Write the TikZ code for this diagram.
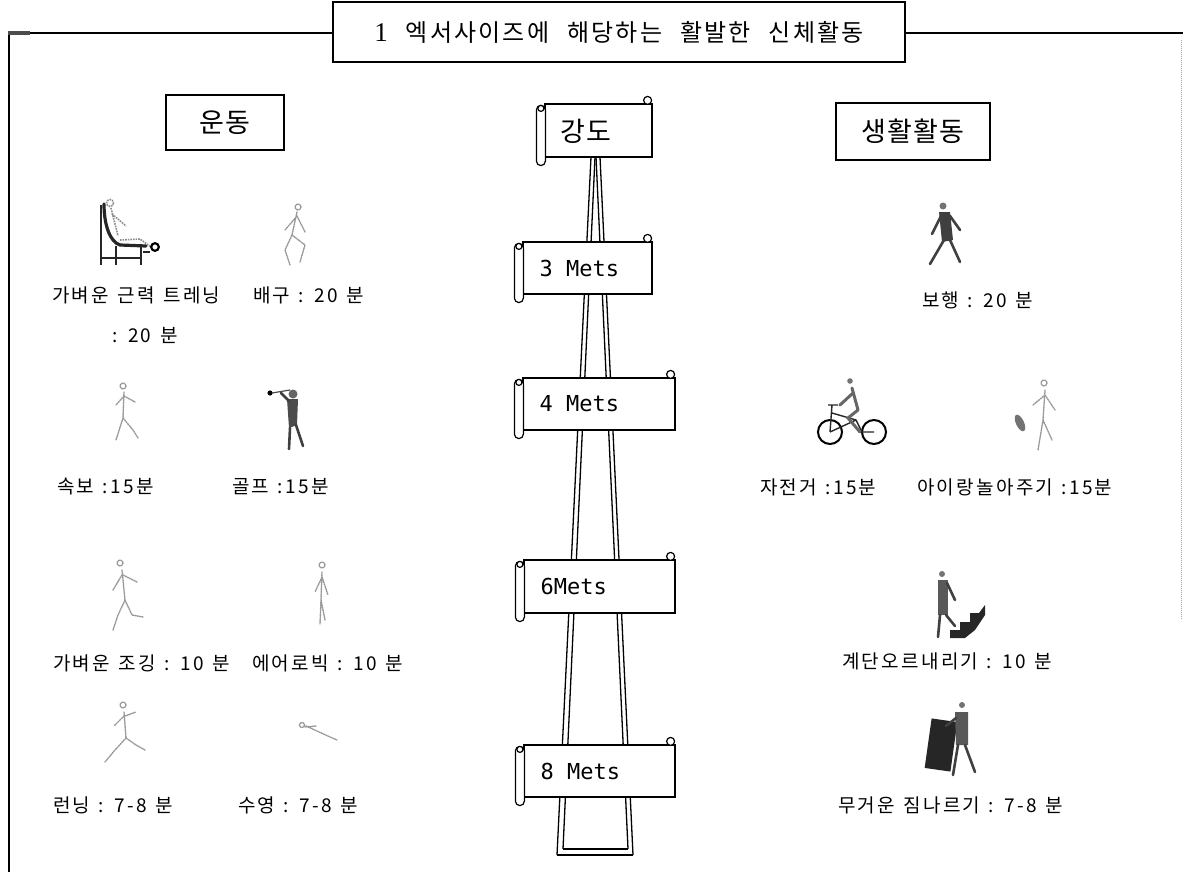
\documentclass[tikz,border=0pt]{standalone}
\usepackage{fontspec}
\setmainfont{Noto Sans CJK KR}
\newfontfamily\krlab[LetterSpace=12,WordSpace=1.3]{Noto Sans CJK KR}
\newfontfamily\krhead[LetterSpace=4]{Noto Sans CJK KR}
\newfontfamily\krtitle[LetterSpace=9,WordSpace=2.4]{Noto Sans CJK KR}
\newfontfamily\metsfont{DejaVu Sans Mono}
\newfontfamily\numfont{Liberation Serif}
\usetikzlibrary{calc}

% scroll-shaped sign: name, x1, y1, x2, y2, text
\newcommand\scrollsign[6]{%
  \node[signbody, minimum width={#4pt-#2pt}, minimum height={#5pt-#3pt}]
    (#1) at ({(#2+#4)/2},{(#3+#5)/2}) {};
  \draw[signline] ($(#1.north east)+(-5,-3)$) circle (4);
  \draw[signline, rounded corners=4.5] ($(#1.north west)+(-8,2)$) rectangle ($(#1.south west)+(1,8)$);
  \draw[signline] ($(#1.north west)+(-3.5,5)$) circle (3);
  \node[signtext, anchor=west] (#1t) at ($(#1.west)+(17,0)$) {#6};
}

\begin{document}
\begin{tikzpicture}[x=1pt,y=-1pt,
  lab/.style={font=\krlab\fontsize{19}{19}\selectfont, inner sep=0pt, anchor=west},
  headbox/.style={draw, line width=1.3pt, fill=white, inner sep=0pt,
    font=\krhead\fontsize{27}{27}\selectfont},
  signbody/.style={draw, line width=1.2pt, fill=white, inner sep=0pt},
  signline/.style={draw, line width=1.2pt, fill=white},
  signtext/.style={font=\metsfont\fontsize{22}{22}\selectfont, inner sep=0pt},
  tower/.style={line width=1.3pt},
  faint/.style={draw=black!40, line width=1.4pt, densely dotted, line cap=round},
  dark/.style={draw=black!75, line width=2.6pt, line cap=round},
]
\useasboundingbox (0,0) rectangle (1183,872);

% ---------- outer frame ----------
\draw[line width=2pt] (8,33) -- (333,33);
\draw[line width=2pt] (905,33) -- (1183,33);
\draw[line width=2.6pt] (9,33) -- (9,872);
\draw[black!70, line width=4pt] (8,33) -- (30,33);
\draw[black!35, densely dotted, line width=1pt] (1181,40) -- (1181,620);

% ---------- title ----------
\node[draw, line width=1.4pt, fill=white, minimum width=572, minimum height=60, inner sep=0pt]
  (title) at (619,32) {\krtitle\fontsize{24}{24}\selectfont{\numfont\fontsize{27}{27}\selectfont 1} 엑서사이즈에 해당하는 활발한 신체활동};

% ---------- column headings ----------
\node[headbox, minimum width=118, minimum height=55] (exhead) at (225,122.5) {운동};
\node[headbox, minimum width=154, minimum height=57] (lifehead) at (913,131.5) {생활활동};

% ---------- tower ----------
\draw[tower] (557,855) -- (591,157);
\draw[tower] (563,849) -- (595,157);
\draw[tower] (633,855) -- (600,157);
\draw[tower] (628,849) -- (596,157);
\draw[tower] (557,855) -- (633,855);
\draw[tower] (563,849) -- (628,849);

% ---------- intensity signs ----------
\scrollsign{sint}{545}{104}{652}{157}{}
\node[font=\krhead\fontsize{27}{27}\selectfont, inner sep=0pt, anchor=west] (sinttext) at (560,131) {강도};
\scrollsign{sthree}{523}{242}{652}{294}{3 Mets}
\scrollsign{sfour}{523}{378}{675}{430}{4 Mets}
\scrollsign{ssix}{524}{560}{675}{613}{6Mets}
\scrollsign{seight}{524}{745}{675}{797}{8 Mets}

% ---------- labels ----------
\node[lab] (l1) at (52,295) {가벼운 근력 트레닝};
\node[lab] (l2) at (253,295) {배구 : 20 분};
\node[lab] (l3) at (112,335) {: 20 분};
\node[lab] (l4) at (57,487) {속보 :15분};
\node[lab] (l5) at (232,487) {골프 :15분};
\node[lab] (l6) at (53,663) {가벼운 조깅 : 10 분};
\node[lab] (l7) at (252,663) {에어로빅 : 10 분};
\node[lab] (l8) at (53,805) {런닝 : 7-8 분};
\node[lab] (l9) at (238,805) {수영 : 7-8 분};
\node[lab] (r1) at (922,300) {보행 : 20 분};
\node[lab] (r2) at (760,487) {자전거 :15분};
\node[lab] (r3) at (917,487) {아이랑놀아주기 :15분};
\node[lab] (r4) at (842,661) {계단오르내리기 : 10 분};
\node[lab] (r5) at (838,805) {무거운 짐나르기 : 7-8 분};

% ---------- figures ----------
% weight machine
\draw[black!85, line width=1.3pt] (101,205) -- (101,265) (101,258) -- (141,258)
  (116,246) -- (116,265) (141,246) -- (141,265) (143,252) -- (150,252);
\draw[black!85, line width=3.2pt, line cap=round] (104,204) .. controls (104,225) and (110,242) .. (120,245) -- (146,246);
\draw[black!45, line width=1.6pt, densely dotted] (110,203) circle (3.5)
  (111,208) -- (118,236) (112,214) -- (126,226) (120,240) -- (140,239) -- (151,247);
\draw[black, line width=2.2pt] (155,247) circle (3.8);

% volleyball
\draw[faint] (298,207) circle (3) (297,212) -- (292,235) (297,216) -- (285,230)
  (297,216) -- (305,232) (292,235) -- (285,250) -- (290,265) (292,235) -- (305,245) -- (300,262);

% brisk walk
\draw[faint] (123,386) circle (3) (124,392) -- (123,418) (124,396) -- (116,405)
  (124,396) -- (135,402) (123,418) -- (116,440) (123,418) -- (133,430) -- (138,438);

% golf
\fill[black] (270,393) circle (2.6);
\draw[black!70, line width=1.2pt] (272,393) -- (290,390);
\fill[black!60] (293,394) circle (4.5);
\fill[black!70] (287,399) -- (298,399) -- (297,425) -- (289,428) -- cycle;
\draw[dark] (289,401) -- (281,393) (290,428) -- (289,449) (296,425) -- (303,446);

% jogging
\draw[faint] (120,563) circle (3) (122,570) -- (125,600) (122,575) -- (113,590)
  (123,575) -- (137,582) (125,600) -- (118,615) -- (113,630) (125,600) -- (132,615) -- (143,617);

% aerobics
\draw[faint] (322,565) circle (3) (322,572) -- (321,600) (322,577) -- (315,592)
  (322,577) -- (328,595) (321,600) -- (320,624) (321,600) -- (325,620);

% running
\draw[faint] (123,705) circle (3) (124,712) -- (126,738) (124,716) -- (114,726)
  (125,716) -- (136,712) (126,738) -- (115,750) -- (105,762) (126,738) -- (136,745) -- (145,750);

% swimming
\draw[faint] (302,725) circle (2.5) (306,726) -- (330,737) (305,727) -- (316,726) (330,737) -- (337,740);

% walking
\fill[black!55] (943,206) circle (3.5);
\fill[black!75] (939,212) -- (950,212) -- (953,240) -- (942,242) -- cycle;
\draw[dark] (941,216) -- (932,234) (950,216) -- (960,230) (944,240) -- (930,264) (950,240) -- (960,262);

% bicycle
\draw[black, line width=2pt] (830,432) circle (12) (874,432) circle (12);
\draw[black!85, line width=1.4pt] (830,432) -- (832,405) (828,405) -- (838,405)
  (832,413) -- (856,420) -- (862,432) -- (874,432) (830,432) -- (856,420);
\fill[black!55] (850,381) circle (2.8);
\draw[black!60, line width=3pt, line cap=round] (852,388) -- (858,410) (853,393) -- (840,405)
  (858,410) -- (848,418) -- (860,432);

% playing with a child
\draw[faint] (1044,383) circle (3) (1045,390) -- (1043,420) (1045,395) -- (1033,405)
  (1045,395) -- (1055,410) (1043,420) -- (1038,450) (1043,420) -- (1052,440);
\fill[black!55, rotate around={25:(1020,423)}] (1020,423) ellipse (4 and 9);

% stairs
\fill[black!55] (942,574) circle (3);
\fill[black!65] (938,580) -- (948,580) -- (948,615) -- (938,615) -- cycle;
\draw[dark] (947,583) -- (955,600) (940,615) -- (938,637) (946,615) -- (955,626);
\fill[black!85] (950,638) -- (950,630) -- (960,630) -- (960,622) -- (970,622) -- (970,613)
  -- (979,613) -- (985,605) -- (985,615) -- (975,630) -- (965,638) -- cycle;

% carrying a load
\fill[black!85, rotate around={-8:(941,745)}] (928,720) rectangle (954,770);
\fill[black!55] (962,705) circle (3);
\fill[black!65] (955,712) -- (968,712) -- (968,745) -- (956,745) -- cycle;
\draw[dark] (958,745) -- (953,775) (965,745) -- (975,772) (956,718) -- (946,726);

\end{tikzpicture}
\end{document}
